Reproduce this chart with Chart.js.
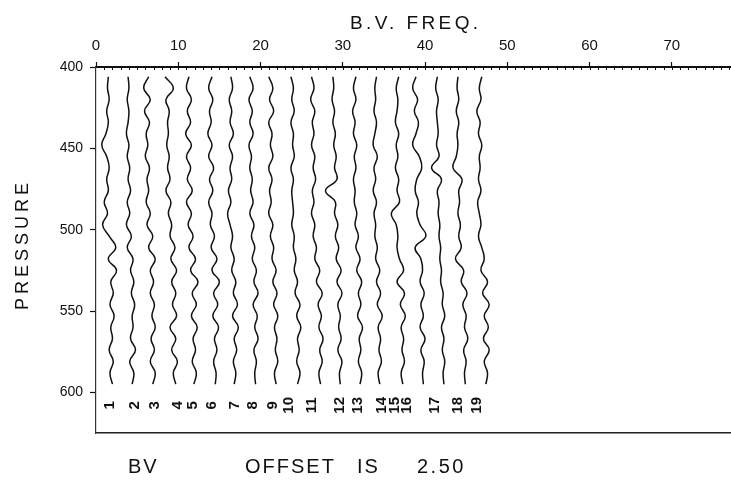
<!DOCTYPE html>
<html>
<head>
<meta charset="utf-8">
<script src="https://cdn.jsdelivr.net/npm/chart.js@4.4.1/dist/chart.umd.min.js"></script>
<style>
  body { margin: 0; background: #fff; }
  #wrap { width: 731px; height: 483px; }
</style>
</head>
<body>
<div id="wrap"><canvas id="bvChart" width="731" height="483"></canvas></div>
<script>
// pressure levels the profiles were sampled at
const pressures = [406, 413, 420, 427, 434, 441, 448, 455, 462, 469, 476, 483, 490, 497,
                   504, 511, 518, 525, 532, 539, 546, 553, 560, 567, 574, 581, 588, 595];

// B.V. frequency profiles, one per station (plotted with an offset of 2.5 each)
const bv1  = [1.5,1.4,1.6,1.3,1.5,1.2,0.7,1.3,1.6,1.3,1.5,1.0,1.4,0.8,1.6,2.4,1.5,2.5,1.8,2.1,1.7,2.2,1.8,2.0,1.6,2.1,1.7,2.0];
const bv2  = [1.4,1.5,1.3,1.5,1.4,1.2,1.5,1.3,1.6,1.4,1.7,1.3,1.6,1.2,1.8,1.3,2.0,1.7,2.1,1.8,2.2,1.9,2.0,1.7,2.3,1.6,2.1,1.9];
const bv3  = [1.4,0.8,1.6,0.9,1.5,1.1,1.3,1.0,1.5,1.2,1.4,1.1,1.6,1.2,1.9,1.4,2.2,1.6,2.0,1.6,2.1,1.8,2.2,1.7,2.1,1.6,2.2,1.9];
const bv4  = [0.9,1.9,1.0,1.4,1.2,1.3,1.1,1.4,1.2,1.5,1.0,1.6,1.3,1.7,1.5,2.1,1.6,2.3,1.7,2.2,1.8,2.3,1.5,2.2,1.7,2.4,1.9,2.2];
const bv5  = [1.3,1.0,1.6,1.1,1.5,0.9,1.6,1.0,1.5,1.1,1.7,1.0,1.6,1.2,1.8,1.3,2.1,1.5,2.4,1.7,2.2,1.6,2.3,1.8,2.1,1.7,2.2,1.9];
const bv6  = [1.6,1.2,1.7,1.3,1.5,1.1,1.6,1.2,1.8,1.3,1.7,1.2,1.6,1.4,1.9,1.5,2.2,1.6,2.5,1.8,2.3,1.7,2.4,1.9,2.2,1.8,2.1,2.0];
const bv7  = [1.4,1.6,1.2,1.5,1.3,1.7,1.2,1.6,1.3,1.5,1.1,1.4,1.0,1.3,1.6,1.4,1.8,1.5,2.0,1.7,2.2,1.6,2.3,1.8,2.1,1.7,2.0,1.8];
const bv8  = [1.2,1.6,1.1,1.5,1.2,1.6,1.1,1.4,1.2,1.5,1.3,1.6,1.2,1.7,1.4,1.8,1.5,2.0,1.7,2.2,1.6,2.1,1.8,2.2,1.7,2.0,1.8,1.9];
const bv9  = [1.0,1.5,1.1,1.6,1.0,1.4,1.2,1.5,1.0,1.4,1.1,1.3,1.0,1.5,1.2,1.6,1.4,1.9,1.5,2.0,1.6,2.1,1.7,2.0,1.8,2.1,1.7,1.9];
const bv10 = [1.2,1.5,1.3,1.6,1.2,1.5,1.4,1.6,1.2,1.5,1.3,1.4,1.5,1.3,1.6,1.5,1.8,1.6,2.0,1.7,2.3,1.9,2.4,2.0,2.2,1.9,2.3,2.0];
const bv11 = [1.2,1.5,1.1,1.6,1.3,1.5,1.2,1.6,1.4,1.7,1.3,1.5,1.2,1.6,1.4,1.8,1.6,2.2,1.8,2.5,2.0,2.4,2.1,2.6,2.2,2.5,2.1,2.3];
const bv12 = [1.3,1.4,1.2,1.5,1.3,1.6,1.4,1.7,1.5,1.8,0.4,1.6,1.5,1.9,1.6,2.0,1.7,2.3,1.8,2.4,1.9,2.2,2.0,2.3,1.9,2.4,2.1,2.2];
const bv13 = [1.6,1.3,1.6,1.2,1.5,1.3,1.7,1.4,1.6,1.3,1.5,1.4,1.7,1.5,1.9,1.6,2.1,1.7,2.3,1.9,2.2,1.8,2.4,2.0,2.2,1.9,2.3,2.1];
const bv14 = [1.6,1.4,1.5,1.3,1.6,1.4,1.2,1.7,1.3,1.5,1.2,1.6,1.3,1.5,1.4,1.7,1.5,2.0,1.6,2.1,1.7,2.3,1.8,2.1,1.9,2.2,1.8,2.0];
const bv15 = [1.8,1.5,1.7,1.6,1.4,1.8,1.5,1.7,1.4,1.8,1.6,1.9,0.9,1.5,1.7,1.6,1.9,2.4,1.6,2.5,2.0,2.6,2.1,2.4,2.2,2.5,2.1,2.3];
const bv16 = [1.4,1.0,1.6,1.2,1.7,1.4,1.0,1.8,2.1,1.5,1.3,1.7,1.5,1.9,2.6,1.3,2.0,2.2,1.9,2.4,2.0,2.3,1.9,2.5,2.0,2.4,2.2,2.3];
const bv17 = [1.5,1.3,1.6,1.4,1.5,1.6,1.4,1.7,0.8,2.0,1.5,1.7,1.6,1.8,1.7,1.9,1.8,2.0,1.9,2.2,2.1,2.4,2.0,2.3,2.1,2.4,2.2,2.3];
const bv18 = [1.5,1.4,1.6,1.3,1.6,1.4,1.5,1.3,0.9,2.0,1.6,1.7,1.5,1.8,1.6,1.9,1.2,2.2,1.9,2.6,2.1,2.5,2.3,2.7,2.2,2.5,2.3,2.4];
const bv19 = [1.9,1.6,1.8,1.3,1.7,1.5,1.9,1.6,1.7,1.5,1.8,1.4,1.6,1.8,1.5,1.9,2.2,1.8,2.6,2.0,2.8,2.2,2.7,2.1,2.8,2.2,2.6,2.4];
const profiles = [bv1, bv2, bv3, bv4, bv5, bv6, bv7, bv8, bv9, bv10,
                  bv11, bv12, bv13, bv14, bv15, bv16, bv17, bv18, bv19];

const offset = 2.5;
const stationNames = ["1","2","3","4","5","6","7","8","9","10","11","12","13","14","15","16","17","18","19"];
// where each station number sits along the B.V. axis
const stationLabelX = [1.7,4.7,7.2,10.0,11.8,14.1,16.9,19.1,21.5,23.4,26.2,29.6,31.8,34.8,36.3,37.8,41.2,44.0,46.3];
const stationLabelP = 608;

const freqTicks = [0, 10, 20, 30, 40, 50, 60, 70];
const pressureTicks = [400, 450, 500, 550, 600];
const freqMax = 77.2;
const pressureMin = 400, pressureMax = 625;

const FONT = "'Liberation Sans', Arial, sans-serif";

const datasets = profiles.map(function(vals, k) {
    return {
        label: stationNames[k],
        data: vals.map(function(v, i) { return {x: v + offset * k, y: pressures[i]}; }),
        borderColor: '#111',
        borderWidth: 1.5,
        pointRadius: 0,
        tension: 0.45,
        fill: false
    };
});

function spacedText(ctx, text, x, y, spacing) {
    ctx.letterSpacing = spacing + 'px';
    ctx.fillText(text, x, y);
    ctx.letterSpacing = '0px';
}

const decorations = {
    id: 'decorations',
    afterDraw: function(chart) {
        const ctx = chart.ctx;
        const xs = chart.scales.x, ys = chart.scales.y;
        const top = chart.chartArea.top;
        ctx.save();
        ctx.fillStyle = '#111';
        ctx.strokeStyle = '#111';

        // small ticks hanging under the top axis, one per unit
        ctx.lineWidth = 1;
        for (let v = 1; v < freqMax; v++) {
            const px = Math.round(xs.getPixelForValue(v)) + 0.5;
            ctx.beginPath();
            ctx.moveTo(px, top);
            ctx.lineTo(px, top + 3);
            ctx.stroke();
        }

        // titles
        ctx.textBaseline = 'alphabetic';
        ctx.textAlign = 'left';
        ctx.font = '19px ' + FONT;
        spacedText(ctx, 'B.V. FREQ.', 350, 29, 3.4);

        ctx.save();
        ctx.translate(28, 310);
        ctx.rotate(-Math.PI / 2);
        ctx.font = '18px ' + FONT;
        spacedText(ctx, 'PRESSURE', 0, 0, 4);
        ctx.restore();

        ctx.font = '20px ' + FONT;
        spacedText(ctx, 'BV', 128, 473, 2);
        spacedText(ctx, 'OFFSET', 245, 473, 2);
        spacedText(ctx, 'IS', 357, 473, 2);
        spacedText(ctx, '2.50', 417, 473, 2.5);

        // station numbers under the profiles
        ctx.font = 'bold 15px ' + FONT;
        ctx.textAlign = 'center';
        ctx.textBaseline = 'middle';
        stationNames.forEach(function(name, i) {
            const px = xs.getPixelForValue(stationLabelX[i]);
            const py = ys.getPixelForValue(stationLabelP);
            ctx.save();
            ctx.translate(px, py);
            ctx.rotate(-Math.PI / 2);
            ctx.fillText(name, 0, 0);
            ctx.restore();
        });
        ctx.restore();
    }
};

new Chart(document.getElementById('bvChart'), {
    type: 'line',
    data: {datasets: datasets},
    options: {
        responsive: false,
        animation: false,
        devicePixelRatio: 1,
        layout: {padding: 0},
        plugins: {legend: {display: false}, tooltip: {enabled: false}},
        scales: {
            x: {
                type: 'linear',
                position: 'top',
                min: 0,
                max: freqMax,
                afterBuildTicks: function(scale) {
                    scale.ticks = freqTicks.map(function(v) { return {value: v}; });
                },
                afterFit: function(scale) { scale.height = 67; },
                ticks: {
                    autoSkip: false,
                    maxRotation: 0,
                    padding: 7,
                    color: '#111',
                    font: {family: FONT, size: 15}
                },
                grid: {drawOnChartArea: false, tickLength: 5, tickColor: '#111', tickWidth: 1.2},
                border: {color: '#111', width: 2}
            },
            x2: {
                type: 'linear',
                position: 'bottom',
                min: 0,
                max: freqMax,
                afterFit: function(scale) { scale.height = 50; },
                ticks: {display: false},
                grid: {display: false},
                border: {display: true, color: '#222', width: 1.5}
            },
            y: {
                type: 'linear',
                reverse: true,
                min: pressureMin,
                max: pressureMax,
                afterBuildTicks: function(scale) {
                    scale.ticks = pressureTicks.map(function(v) { return {value: v}; });
                },
                afterFit: function(scale) { scale.width = 96; },
                ticks: {
                    padding: 7,
                    color: '#111',
                    font: {family: FONT, size: 14}
                },
                grid: {drawOnChartArea: false, tickLength: 6, tickColor: '#111', tickWidth: 1.2},
                border: {color: '#333', width: 1.2, dash: [5, 4]}
            }
        }
    },
    plugins: [decorations]
});
</script>
</body>
</html>
